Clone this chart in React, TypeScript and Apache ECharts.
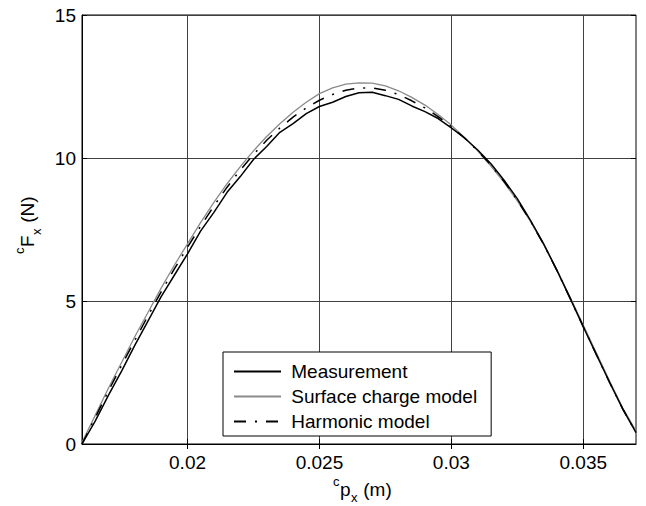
import React, { useEffect, useRef } from "react";
import * as echarts from "echarts";

const xValues = [
  0.016, 0.0165, 0.017, 0.0175, 0.018, 0.0185, 0.019, 0.0195, 0.02, 0.0205,
  0.021, 0.0215, 0.022, 0.0225, 0.023, 0.0235, 0.024, 0.0245, 0.025, 0.0255,
  0.026, 0.0265, 0.027, 0.0275, 0.028, 0.0285, 0.029, 0.0295, 0.03, 0.0305,
  0.031, 0.0315, 0.032, 0.0325, 0.033, 0.0335, 0.034, 0.0345, 0.035, 0.0355,
  0.036, 0.0365, 0.037,
];

const measurement = [
  0, 0.8, 1.7, 2.55, 3.45, 4.3, 5.15, 5.9, 6.65, 7.45,
  8.1, 8.8, 9.35, 9.95, 10.4, 10.9, 11.2, 11.55, 11.8, 11.95,
  12.15, 12.28, 12.3, 12.18, 12.05, 11.82, 11.62, 11.38, 11.05, 10.7,
  10.28, 9.8, 9.22, 8.58, 7.82, 7.0, 6.08, 5.1, 4.1, 3.12,
  2.15, 1.22, 0.4,
];

const surfaceCharge = [
  0.05, 1.0, 1.95, 2.85, 3.75, 4.6, 5.45, 6.25, 7.0, 7.75,
  8.45, 9.1, 9.7, 10.25, 10.75, 11.2, 11.6, 11.95, 12.25, 12.45,
  12.58, 12.63, 12.62, 12.52, 12.35, 12.12, 11.85, 11.52, 11.15, 10.72,
  10.25, 9.72, 9.15, 8.5, 7.78, 6.97, 6.08, 5.14, 4.16, 3.18,
  2.2, 1.26, 0.45,
];

const harmonic = [
  0, 0.92, 1.85, 2.75, 3.62, 4.48, 5.32, 6.12, 6.88, 7.62,
  8.32, 8.98, 9.58, 10.12, 10.62, 11.05, 11.43, 11.75, 12.02, 12.22,
  12.37, 12.45, 12.45, 12.37, 12.22, 12.0, 11.75, 11.45, 11.1, 10.7,
  10.25, 9.75, 9.18, 8.53, 7.8, 6.98, 6.07, 5.1, 4.1, 3.12,
  2.15, 1.22, 0.4,
];

const xTicks = [0.02, 0.025, 0.03, 0.035];
const yTicks = [0, 5, 10, 15];
const seriesNames = ["Measurement", "Surface charge model", "Harmonic model"];

const FONT = "Liberation Sans, Arial, Helvetica, sans-serif";
const FS = 19;
const SUB = 13;

export default function App() {
  const ref = useRef<HTMLDivElement>(null);

  useEffect(() => {
    if (!ref.current) return;
    const chart = echarts.init(ref.current, undefined, { renderer: "svg" });
    const pairs = (ys: number[]) => xValues.map((x, i) => [x, ys[i]]);

    const gridColor = "#404040";
    const baseX = { type: "value" as const, min: 0.016, max: 0.037 };
    const baseY = { type: "value" as const, min: 0, max: 15, interval: 5 };

    const txt = (text: string, x: number, y: number, size: number) => ({
      type: "text",
      x,
      y,
      style: { text, fontSize: size, fontFamily: FONT, fill: "#000", verticalAlign: "middle", align: "left" },
    });

    chart.setOption({
      animation: false,
      backgroundColor: "#ffffff",
      textStyle: { fontFamily: FONT },
      grid: {
        left: 82,
        top: 15,
        width: 554,
        height: 429,
        show: true,
        borderColor: "#000",
        borderWidth: 1,
        backgroundColor: "transparent",
      },
      xAxis: [
        {
          ...baseX,
          position: "bottom",
          axisLine: { show: true, lineStyle: { color: "#000", width: 1 } },
          axisTick: { show: true, inside: true, length: 5, customValues: xTicks, lineStyle: { color: "#000" } },
          axisLabel: {
            show: true,
            customValues: xTicks,
            formatter: (v: number) => String(v),
            color: "#000",
            fontSize: FS,
            fontFamily: FONT,
            margin: 9,
          },
          splitLine: { show: true, lineStyle: { color: gridColor, width: 1 } },
        },
        {
          ...baseX,
          position: "top",
          axisLine: { show: false },
          axisTick: { show: true, inside: true, length: 5, customValues: xTicks, lineStyle: { color: "#000" } },
          axisLabel: { show: false },
          splitLine: { show: false },
        },
      ],
      yAxis: [
        {
          ...baseY,
          position: "left",
          axisLine: { show: true, lineStyle: { color: "#000", width: 1 } },
          axisTick: { show: true, inside: true, length: 5, lineStyle: { color: "#000" } },
          axisLabel: {
            show: true,
            color: "#000",
            fontSize: FS,
            fontFamily: FONT,
            margin: 6,
            formatter: (v: number) => (yTicks.includes(v) ? String(v) : ""),
          },
          splitLine: { show: true, lineStyle: { color: gridColor, width: 1 } },
        },
        {
          ...baseY,
          position: "right",
          axisLine: { show: false },
          axisTick: { show: true, inside: true, length: 5, lineStyle: { color: "#000" } },
          axisLabel: { show: false },
          splitLine: { show: false },
        },
      ],
      legend: {
        show: true,
        orient: "vertical",
        left: 223,
        top: 352,
        data: seriesNames,
        itemWidth: 47,
        itemHeight: 19,
        itemGap: 6,
        padding: [10, 14, 5, 10],
        borderColor: "#000",
        borderWidth: 1,
        backgroundColor: "#fff",
        itemStyle: { opacity: 0 },
        formatter: (name: string) => " " + name,
        textStyle: { color: "#000", fontSize: FS, fontFamily: FONT },
      },
      series: [
        {
          name: seriesNames[0],
          type: "line",
          data: pairs(measurement),
          showSymbol: false,
          symbol: "none",
          lineStyle: { color: "#000", width: 1.5 },
          itemStyle: { color: "#000" },
          z: 4,
        },
        {
          name: seriesNames[1],
          type: "line",
          data: pairs(surfaceCharge),
          showSymbol: false,
          symbol: "none",
          lineStyle: { color: "#8a8a8a", width: 1.3 },
          itemStyle: { color: "#8a8a8a" },
          z: 3,
        },
        {
          name: seriesNames[2],
          type: "line",
          data: pairs(harmonic),
          showSymbol: false,
          symbol: "none",
          lineStyle: { color: "#000", width: 1.5, type: [12, 9, 2, 9] },
          itemStyle: { color: "#000" },
          z: 5,
        },
      ],
      graphic: [
        {
          type: "group",
          x: 333,
          y: 489,
          children: [
            txt("c", 0, -8, SUB),
            txt("p", 7, 0, FS),
            txt("x", 18, 8, SUB),
            txt(" (m)", 25, 0, FS),
          ],
        },
        {
          type: "group",
          x: 27,
          y: 254,
          rotation: Math.PI / 2,
          children: [
            txt("c", 0, -8, SUB),
            txt("F", 7, 0, FS),
            txt("x", 19, 9, SUB),
            txt(" (N)", 26, 0, FS),
          ],
        },
      ],
    });

    return () => chart.dispose();
  }, []);

  return (
    <div
      ref={ref}
      style={{ position: "fixed", left: 0, top: 0, width: 646, height: 506, background: "#fff" }}
    />
  );
}
